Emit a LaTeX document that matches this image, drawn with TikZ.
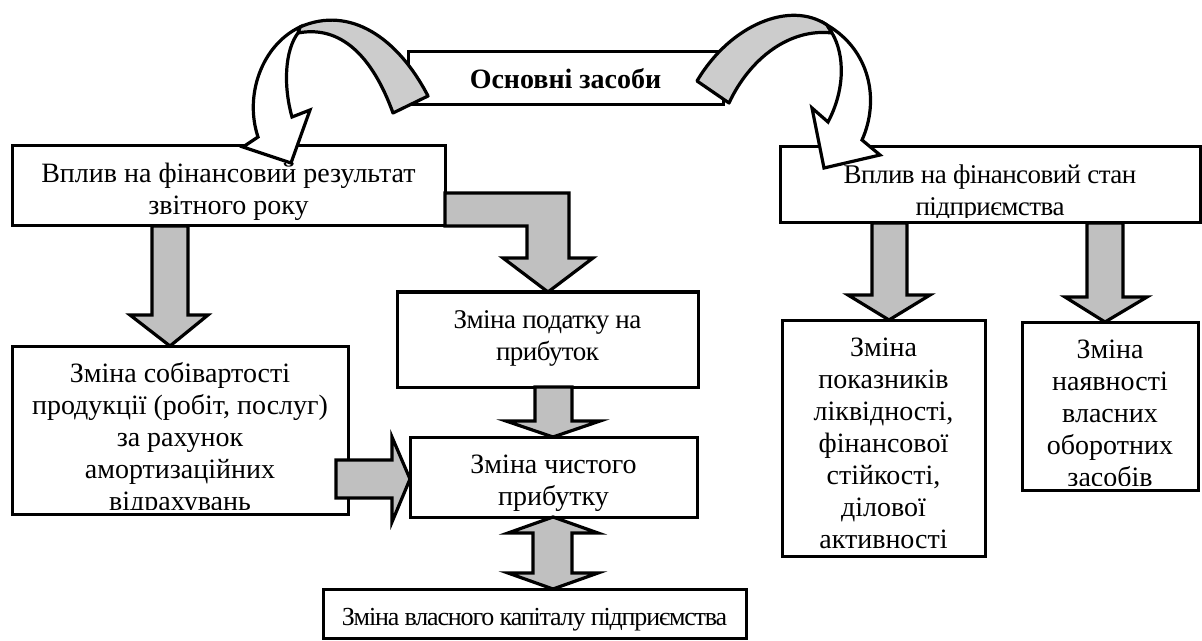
\documentclass[tikz,border=0pt]{standalone}
\usepackage{fontspec}
\setmainfont{Liberation Serif}
\newfontfamily\condhalf[LetterSpace=-2]{Liberation Serif}
\newfontfamily\condone[LetterSpace=-4.5]{Liberation Serif}
\usetikzlibrary{fit}
\definecolor{agray}{RGB}{192,192,192}
\definecolor{cgray}{RGB}{204,204,204}
\tikzset{
 box/.style={draw, line width=1.5pt, fill=white, inner sep=0pt},
 txt/.style={align=center, inner sep=0pt, anchor=north, font=\fontsize{14}{16}\selectfont},
 barrow/.style={draw, line width=1.6pt, fill=agray, line join=miter},
 cband/.style={draw, line width=1.6pt, fill=cgray, line join=round},
 cfront/.style={draw, line width=1.6pt, fill=white, line join=miter}
}
\newcommand\mkbox[5]{%
 \coordinate (#1-nw) at (#2,#3); \coordinate (#1-se) at (#4,#5);
 \node[box, fit=(#1-nw)(#1-se)] (#1) {};}
\newcommand\mktext[7][]{%
 \begin{scope}\clip (#3,#4) rectangle (#5,#6-5);
 \node[txt,#1] (#2-t) at ({(#3+#5)/2},#4+13.6) {\strut #7};
 \end{scope}}
\begin{document}
\begin{tikzpicture}[x=0.5pt,y=-0.5pt]
\useasboundingbox (0,0) rectangle (1202,641);
% boxes
\mkbox{A}{408}{52}{723}{105}
\mkbox{B}{12}{146}{445}{226}
\mkbox{C}{780}{147}{1200}{223}
\mkbox{D}{397}{292}{698}{387}
\mkbox{E}{12}{346}{348}{514}
\mkbox{F}{410}{437}{697}{517}
\mkbox{G}{323}{589}{746}{638}
\mkbox{H}{782}{320}{985}{556}
\mkbox{I}{1022}{322}{1198}{490}
% block arrows
\draw[barrow] (152,226) -- (188,226) -- (188,315) -- (208,315) -- (170,346) -- (130,315) -- (152,315) -- cycle;
\draw[barrow] (445,193) -- (569,193) -- (569,258) -- (593,258) -- (548,292) -- (503,258) -- (527,258) -- (527,226) -- (445,226) -- cycle;
\draw[barrow] (535,387) -- (572,387) -- (572,421) -- (600,421) -- (553,437) -- (506,421) -- (535,421) -- cycle;
\draw[barrow] (336,460) -- (392,460) -- (392,437) -- (410,479) -- (392,522) -- (392,498) -- (336,498) -- cycle;
\draw[barrow] (553,517) -- (598,533) -- (572,533) -- (572,573) -- (598,573) -- (553,589) -- (508,573) -- (533,573) -- (533,533) -- (508,533) -- cycle;
\draw[barrow] (872,223) -- (907,223) -- (907,295) -- (930,295) -- (889,320) -- (848,295) -- (872,295) -- cycle;
\draw[barrow] (1087,223) -- (1123,223) -- (1123,297) -- (1147,297) -- (1105,322) -- (1065,297) -- (1087,297) -- cycle;
% curved arrows
\draw[cband] (428,96) .. controls (398,38) and (350,5) .. (300,27) -- (298,33) .. controls (340,25) and (372,55) .. (393,113) -- cycle;
\draw[cfront] (300,27) .. controls (262,45) and (244,95) .. (258,137) -- (243,147) -- (291,163) -- (310,110) -- (292,117) .. controls (283,85) and (285,50) .. (298,33) -- cycle;
\draw[cband] (697,81) .. controls (730,25) and (790,0) .. (827,25) -- (832,33) .. controls (790,28) and (750,58) .. (729,103) -- cycle;
\draw[cfront] (827,25) .. controls (870,50) and (880,100) .. (862,140) -- (880,155) -- (824,168) -- (812,108) -- (828,122) .. controls (845,90) and (845,55) .. (832,33) -- cycle;
% texts
\mktext{A}{408}{52}{723}{105}{\textbf{Основні засоби}}
\mktext{B}{12}{146}{445}{226}{Вплив на фінансовий результат\\звітного року}
\mktext[font=\fontsize{13.5}{16}\condhalf]{C}{780}{147}{1200}{223}{Вплив на фінансовий стан\\підприємства}
\mktext[font=\fontsize{13.5}{16}\condhalf]{D}{397}{292}{698}{387}{Зміна податку на\\прибуток}
\mktext{E}{12}{346}{348}{514}{Зміна собівартості\\продукції (робіт, послуг)\\за рахунок\\амортизаційних\\відрахувань}
\mktext{F}{410}{437}{697}{517}{Зміна чистого\\прибутку}
\mktext[font=\fontsize{13}{16}\condone]{G}{323}{589}{746}{638}{Зміна власного капіталу підприємства}
\mktext{H}{782}{320}{985}{556}{Зміна\\показників\\ліквідності,\\фінансової\\стійкості,\\ділової\\активності}
\mktext{I}{1022}{322}{1198}{490}{Зміна\\наявності\\власних\\оборотних\\засобів}
\end{tikzpicture}
\end{document}
